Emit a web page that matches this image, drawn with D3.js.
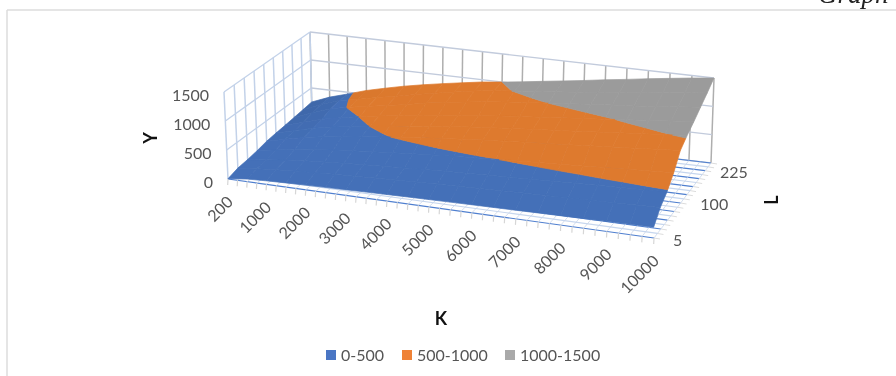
<!DOCTYPE html>
<html lang="en">
<head>
<meta charset="UTF-8">
<title>Y over K and L</title>
<script src="https://d3js.org/d3.v7.min.js"></script>
<style>
    html, body { margin: 0; padding: 0; background: #fff; overflow: hidden; }
    svg { display: block; filter: blur(0.45px); }
    text { font-family: Lato, sans-serif; font-size: 16px; fill: #555; }
    .title { font-weight: bold; font-size: 18px; fill: #111; }
    .caption { font-family: "Liberation Serif", serif; font-style: italic; font-size: 27px; fill: #222; }
</style>
</head>
<body>
<svg id="chart" width="896" height="376"></svg>
<script>
    // categories on the two floor axes
    const kValues = [200, 500, 1000, 1500, 2000, 2500, 3000, 3500, 4000, 4500, 5000, 5500, 6000, 6500, 7000, 7500, 8000, 8500, 9000, 9500, 10000]
    const lValues = [5, 15, 30, 50, 75, 100, 125, 150, 175, 225]
    const kLabels = [200, 1000, 2000, 3000, 4000, 5000, 6000, 7000, 8000, 9000, 10000]
    const lLabels = [5, 100, 225]
    const yTicks = [0, 500, 1000, 1500]

    // Y, one row per L (front to back), one value per K
    const yRows = [
        [5, 45, 60, 71, 80, 89, 97, 104, 111, 118, 124, 130, 136, 141, 146, 152, 157, 163, 169, 175, 180],
        [60, 90, 120, 142, 161, 178, 193, 208, 222, 236, 248, 260, 271, 282, 293, 304, 314, 326, 337, 349, 360],
        [80, 120, 160, 189, 214, 237, 258, 277, 296, 315, 331, 347, 362, 376, 390, 405, 419, 435, 450, 466, 480],
        [110, 165, 220, 260, 295, 326, 354, 381, 407, 433, 455, 477, 497, 517, 537, 557, 576, 598, 618, 640, 660],
        [150, 225, 300, 354, 402, 444, 483, 519, 555, 591, 621, 651, 678, 705, 732, 759, 786, 816, 843, 873, 900],
        [170, 255, 340, 401, 456, 503, 547, 588, 629, 670, 704, 738, 768, 799, 830, 860, 891, 925, 955, 989, 1020],
        [188, 281, 375, 443, 503, 555, 604, 649, 694, 739, 776, 814, 848, 881, 915, 949, 983, 1020, 1054, 1091, 1125],
        [208, 330, 440, 510, 565, 620, 680, 745, 800, 850, 895, 935, 970, 1000, 1035, 1070, 1100, 1129, 1166, 1208, 1245],
        [228, 360, 470, 530, 600, 665, 735, 800, 860, 920, 970, 1005, 1040, 1075, 1110, 1151, 1192, 1238, 1279, 1324, 1365],
        [250, 375, 470, 570, 650, 725, 790, 850, 905, 960, 1000, 1045, 1095, 1145, 1195, 1250, 1300, 1355, 1405, 1455, 1500]
    ]

    const bandNames = ["0-500", "500-1000", "1000-1500"]
    const bandLimits = [[0, 500], [500, 1000], [1000, 1500]]
    const surfaceColors = ["#4470b8", "#de7a2e", "#9b9b9b"]
    const legendColors = ["#4a76c4", "#ef8236", "#a9a9a9"]

    const svg = d3.select("#chart")

    // scales go to the unit cube, project() takes that to the screen
    const kScale = d3.scalePoint().domain(kValues).range([0, 1])
    const lScale = d3.scalePoint().domain(lValues).range([0, 1])
    const yScale = d3.scaleLinear().domain([0, 1500]).range([0, 1])
    const kIndex = d3.scaleLinear().domain([0, kValues.length - 1]).range([0, 1])
    const lIndex = d3.scaleLinear().domain([0, lValues.length - 1]).range([0, 1])

    // box corners in order front-left, front-right, back-right, back-left
    const floorBox = [[228, 179], [654, 238], [711, 163], [312, 116]]
    const topBox = [[224, 92], [651, 148], [714, 78], [310, 32]]

    function homography(q) {
        let [p0, p1, p2, p3] = q
        let dx1 = p1[0] - p2[0], dx2 = p3[0] - p2[0], sx = p0[0] - p1[0] + p2[0] - p3[0]
        let dy1 = p1[1] - p2[1], dy2 = p3[1] - p2[1], sy = p0[1] - p1[1] + p2[1] - p3[1]
        let det = dx1 * dy2 - dx2 * dy1
        let g = (sx * dy2 - dx2 * sy) / det
        let h = (dx1 * sy - sx * dy1) / det
        let a = p1[0] - p0[0] + g * p1[0], b = p3[0] - p0[0] + h * p3[0]
        let d = p1[1] - p0[1] + g * p1[1], e = p3[1] - p0[1] + h * p3[1]
        return (u, v) => {
            let w = g * u + h * v + 1
            return [(a * u + b * v + p0[0]) / w, (d * u + e * v + p0[1]) / w]
        }
    }
    const floorAt = homography(floorBox)
    const topAt = homography(topBox)

    function project(u, v, t) {
        let f = floorAt(u, v), c = topAt(u, v)
        return [f[0] + (c[0] - f[0]) * t, f[1] + (c[1] - f[1]) * t]
    }

    const line = d3.line()
    function segment(g, a, b, color, width) {
        g.append("path").attr("d", line([a, b])).attr("stroke", color)
            .attr("stroke-width", width).attr("fill", "none")
    }

    // walls
    const walls = svg.append("g")
    const paleBlue = "#c3d2e9", wallGray = "#aeaeae", wallLine = "#c2cbdc"
    kValues.forEach(k => segment(walls, project(kScale(k), 1, 0), project(kScale(k), 1, 1), wallGray, 1.5))
    lValues.forEach(l => segment(walls, project(0, lScale(l), 0), project(0, lScale(l), 1), paleBlue, 1.5))
    yTicks.forEach(y => {
        segment(walls, project(0, 0, yScale(y)), project(0, 1, yScale(y)), paleBlue, 1.3)
        segment(walls, project(0, 1, yScale(y)), project(1, 1, yScale(y)), wallLine, 1.3)
    })

    // floor: blue lines with a pale one between each pair, short ticks on the edges
    const floor = svg.append("g")
    d3.range(0, lValues.length - 0.5, 0.5).forEach(i => {
        let whole = Number.isInteger(i)
        segment(floor, project(0, lIndex(i), 0), project(1, lIndex(i), 0), whole ? "#4f7fcf" : "#c6d6ee", 1.2)
        let end = project(1, lIndex(i), 0)
        segment(floor, end, [end[0] + 6, end[1] + 1], "#dcdcdc", 1)
    })
    d3.range(0, kValues.length - 0.5, 0.5).forEach(i => {
        let end = project(kIndex(i), 0, 0)
        segment(floor, end, project(kIndex(i), 1, 0), "#c9d6ea", 0.8)
        segment(floor, end, [end[0] - 0.3, end[1] + 6], "#d6d6d6", 1.2)
    })

    // cut a quad of the surface to the part that lies inside one band
    function clipAbove(poly, limit, sign) {
        let out = []
        poly.forEach((p, i) => {
            let q = poly[(i + 1) % poly.length]
            let pIn = sign * (p[2] - limit) >= 0, qIn = sign * (q[2] - limit) >= 0
            if (pIn) out.push(p)
            if (pIn !== qIn) {
                let t = (limit - p[2]) / (q[2] - p[2])
                out.push([p[0] + (q[0] - p[0]) * t, p[1] + (q[1] - p[1]) * t, limit])
            }
        })
        return out
    }

    let faces = []
    for (let r = lValues.length - 2; r >= 0; r--) {
        for (let c = 0; c < kValues.length - 1; c++) {
            let quad = [
                [c, r, yRows[r][c]], [c + 1, r, yRows[r][c + 1]],
                [c + 1, r + 1, yRows[r + 1][c + 1]], [c, r + 1, yRows[r + 1][c]]
            ]
            let slope = (yRows[r][c + 1] - yRows[r][c] + yRows[r + 1][c + 1] - yRows[r + 1][c]) / 2
            bandLimits.forEach((band, b) => {
                let poly = clipAbove(clipAbove(quad, band[0], 1), band[1], -1)
                if (poly.length > 2) faces.push({ poly, band: b, slope })
            })
        }
    }
    const shade = d3.scaleLinear().domain([60, 130]).range([0, 0.22]).clamp(true)

    svg.append("g").selectAll("path")
        .data(faces)
        .enter()
        .append("path")
        .attr("d", d => line(d.poly.map(p => project(kIndex(p[0]), lIndex(p[1]), yScale(p[2])))) + "Z")
        .attr("fill", d => d3.color(surfaceColors[d.band]).darker(shade(d.slope)))
        .attr("stroke", d => d3.color(surfaceColors[d.band]).darker(shade(d.slope)))
        .attr("stroke-width", 0.7)
        .attr("stroke-linejoin", "round")

    // axis labels
    const labels = svg.append("g")
    yTicks.forEach(y => {
        let p = project(0, 0, yScale(y))
        labels.append("text").attr("x", p[0] - 15).attr("y", p[1] + 9)
            .attr("text-anchor", "end").text(y)
    })
    kLabels.forEach(k => {
        let p = project(kScale(k), 0, 0)
        labels.append("text")
            .attr("transform", `translate(${p[0] + 6},${p[1] + 24}) rotate(-45)`)
            .attr("text-anchor", "end").text(k)
    })
    const lDx = d3.scaleLinear().domain([0, 1]).range([19, 9])
    const lDy = d3.scaleLinear().domain([0, 0.55, 1]).range([8, 15, 15])
    lLabels.forEach(l => {
        let v = lScale(l), p = project(1, v, 0)
        labels.append("text").attr("x", p[0] + lDx(v)).attr("y", p[1] + lDy(v)).text(l)
    })

    // axis titles
    labels.append("text").attr("class", "title").attr("x", 441).attr("y", 325)
        .attr("text-anchor", "middle").text("K")
    labels.append("text").attr("class", "title").attr("text-anchor", "middle")
        .attr("transform", "translate(157,138) rotate(-90)").text("Y")
    labels.append("text").attr("class", "title").attr("text-anchor", "middle")
        .attr("transform", "translate(778,200) rotate(-90)").text("L")

    // legend
    const legendX = d3.scaleOrdinal().domain(bandNames).range([326, 402, 505])
    const legend = svg.append("g").selectAll("g")
        .data(bandNames)
        .enter()
        .append("g")
        .attr("transform", d => `translate(${legendX(d)},350)`)
    legend.append("rect").attr("width", 10).attr("height", 10)
        .attr("fill", (d, i) => legendColors[i])
    legend.append("text").attr("x", 15).attr("y", 11).text(d => d)

    // page furniture: frame of the chart and the caption cut off above it
    svg.append("line").attr("x1", 7).attr("x2", 896).attr("y1", 10).attr("y2", 10)
        .attr("stroke", "#dcdcdc").attr("stroke-width", 1.5)
    svg.append("line").attr("x1", 7).attr("x2", 7).attr("y1", 10).attr("y2", 376)
        .attr("stroke", "#dcdcdc").attr("stroke-width", 1.5)
    svg.append("text").attr("class", "caption").attr("x", 818).attr("y", 3).text("Graph")
</script>
</body>
</html>
